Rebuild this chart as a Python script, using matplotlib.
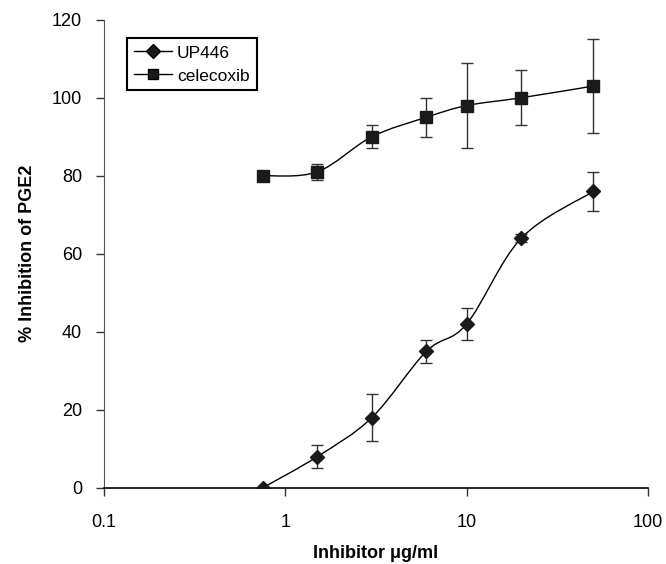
import matplotlib.pyplot as plt
import numpy as np
from matplotlib.path import Path
from matplotlib.patches import PathPatch
from matplotlib.ticker import FixedLocator, FixedFormatter, NullLocator

plt.rcParams['font.family'] = ['Liberation Sans', 'DejaVu Sans']

# data
conc = [0.75, 1.5, 3, 6, 10, 20, 50]
up446 = [0, 8, 18, 35, 42, 64, 76]
up446_err = [0, 3, 6, 3, 4, 1, 5]
celecoxib = [80, 81, 90, 95, 98, 100, 103]
celecoxib_err = [0, 2, 3, 5, 11, 7, 12]
x_ticks = [0.1, 1, 10, 100]
x_labels = ['0.1', '1', '10', '100']
y_ticks = [0, 20, 40, 60, 80, 100, 120]


def smooth_path(xs, ys, t=1/6.):
    # Excel-like smoothed line: Catmull-Rom bezier in log-x space
    lx = np.log10(xs)
    ys = np.asarray(ys, float)
    n = len(lx)
    verts = [(xs[0], ys[0])]
    codes = [Path.MOVETO]
    for i in range(n - 1):
        p0 = (lx[max(i - 1, 0)], ys[max(i - 1, 0)])
        p1 = (lx[i], ys[i])
        p2 = (lx[i + 1], ys[i + 1])
        p3 = (lx[min(i + 2, n - 1)], ys[min(i + 2, n - 1)])
        c1 = (p1[0] + (p2[0] - p0[0]) * t, p1[1] + (p2[1] - p0[1]) * t)
        c2 = (p2[0] - (p3[0] - p1[0]) * t, p2[1] - (p3[1] - p1[1]) * t)
        for c in (c1, c2, p2):
            verts.append((10 ** c[0], c[1]))
            codes.append(Path.CURVE4)
    return Path(verts, codes)


fig = plt.figure(figsize=(6.66, 5.64), dpi=100)
ax = fig.add_axes([0.156, 0.135, 0.817, 0.83])
ax.set_xscale('log')

for ys, err in ((up446, up446_err), (celecoxib, celecoxib_err)):
    ax.add_patch(PathPatch(smooth_path(conc, ys), fill=False, edgecolor='black', lw=1.0, zorder=2))
    ax.errorbar(conc, ys, yerr=err, fmt='none', ecolor='#333333', elinewidth=1.0,
                capsize=4.3, capthick=1.0, zorder=3)

ax.plot(conc, up446, linestyle='none', marker='D', markersize=7.5, color='#1a1a1a', zorder=4)
ax.plot(conc, celecoxib, linestyle='none', marker='s', markersize=8.5, color='#1a1a1a', zorder=4)

# legend handles
h1, = ax.plot([], [], '-', color='black', lw=1.0, marker='D', markersize=7, markerfacecolor='#1a1a1a')
h2, = ax.plot([], [], '-', color='black', lw=1.0, marker='s', markersize=7, markerfacecolor='#1a1a1a')
leg = ax.legend([h1, h2], ['UP446', 'celecoxib'], loc='upper left', bbox_to_anchor=(0.042, 0.96),
                fancybox=False, framealpha=1, edgecolor='black', fontsize=12.5,
                handlelength=2.2, handletextpad=0.3, borderpad=0.4, labelspacing=0.45,
                borderaxespad=0)
leg.get_frame().set_linewidth(1.5)

ax.set_xlim(0.1, 100)
ax.set_ylim(0, 120)
ax.xaxis.set_major_locator(FixedLocator(x_ticks))
ax.xaxis.set_major_formatter(FixedFormatter(x_labels))
ax.xaxis.set_minor_locator(NullLocator())
ax.set_yticks(y_ticks)
ax.tick_params(axis='both', labelsize=13, direction='out', length=5.8, width=1, color='#333333')
ax.tick_params(axis='x', pad=13)
ax.tick_params(axis='y', pad=10)
ax.spines['top'].set_visible(False)
ax.spines['right'].set_visible(False)
ax.spines['left'].set_color('#555555')
ax.spines['bottom'].set_linewidth(1.2)

ax.set_xlabel('Inhibitor μg/ml', fontsize=13, fontweight='bold', labelpad=10)
ax.set_ylabel('% Inhibition of PGE2', fontsize=13, fontweight='bold', labelpad=11)

plt.savefig('out.png', dpi=100)
